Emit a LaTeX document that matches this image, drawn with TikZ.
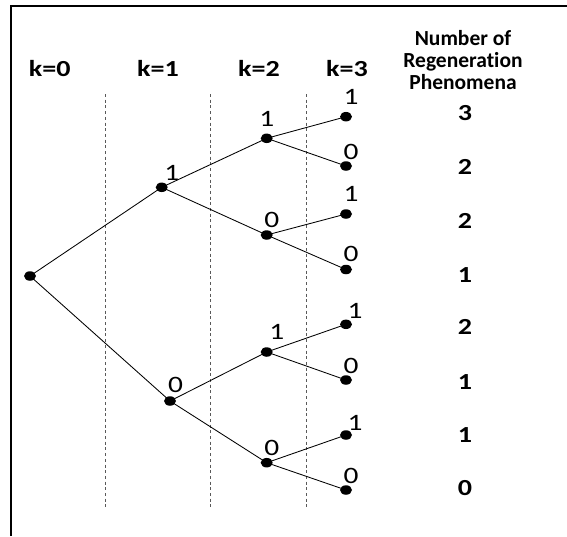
\documentclass[tikz,border=0pt]{standalone}
\usepackage{fontspec}
\usetikzlibrary{shapes.geometric}
\newfontfamily\digfont[FakeStretch=1.22,Ligatures=NoCommon]{Carlito}
\newfontfamily\wordfont[FakeStretch=1.0,Ligatures=NoCommon]{Carlito}
\newfontfamily\labfont[FakeStretch=1.25]{Carlito}
\begin{document}
\begin{tikzpicture}[x=1pt,y=-1pt,
  dot/.style={ellipse,fill=black,inner sep=0pt,minimum width=12pt,minimum height=9.5pt},
  lab/.style={inner sep=0pt,font=\labfont\fontsize{23.5}{28}\selectfont},
  hdr/.style={inner sep=0pt,anchor=base,font=\digfont\bfseries\fontsize{23}{27}\selectfont},
  word/.style={inner sep=0pt,anchor=base,font=\wordfont\bfseries\fontsize{21.5}{26}\selectfont},
  num/.style={inner sep=0pt,font=\digfont\bfseries\fontsize{23}{27}\selectfont},
  edge/.style={draw=black,line width=0.85pt},
  sep/.style={draw=black!65,line width=1pt,dash pattern=on 3pt off 2.7pt}]
\useasboundingbox (0,0) rectangle (567,536);
\fill[white] (0,0) rectangle (567,536);
% frame (left and top)
\draw[line width=2.6pt] (11,536) -- (11,6) -- (567,6);
% separators
\draw[sep] (105.3,94) -- (105.3,507);
\draw[sep] (210.7,94) -- (210.7,507);
\draw[sep] (306.7,94) -- (306.7,507);
% headers
\node[hdr] (h0) at (49.7,76) {k=0};
\node[hdr] (h1) at (158,76) {k=1};
\node[hdr] (h2) at (259,76) {k=2};
\node[hdr] (h3) at (347,76) {k=3};
\node[word] (w1) at (463,45) {Number of};
\node[word] (w2) at (463,67) {Regeneration};
\node[word] (w3) at (463,89) {Phenomena};
% nodes
\node[dot] (r) at (30,276) {};
\node[dot] (a1) at (161.7,187.3) {};
\node[dot] (a0) at (170,401) {};
\node[dot] (b11) at (266.7,138.3) {};
\node[dot] (b10) at (266.7,235) {};
\node[dot] (b01) at (266.7,352) {};
\node[dot] (b00) at (266.7,462.7) {};
\node[dot] (c111) at (346,116.7) {};
\node[dot] (c110) at (346,166) {};
\node[dot] (c101) at (346,214) {};
\node[dot] (c100) at (346,269.5) {};
\node[dot] (c011) at (346,324.3) {};
\node[dot] (c010) at (346,380) {};
\node[dot] (c001) at (346,435) {};
\node[dot] (c000) at (346,490) {};
% edges
\draw[edge] (r.center) -- (a1.center);
\draw[edge] (r.center) -- (a0.center);
\draw[edge] (a1.center) -- (b11.center);
\draw[edge] (a1.center) -- (b10.center);
\draw[edge] (a0.center) -- (b01.center);
\draw[edge] (a0.center) -- (b00.center);
\draw[edge] (b11.center) -- (c111.center);
\draw[edge] (b11.center) -- (c110.center);
\draw[edge] (b10.center) -- (c101.center);
\draw[edge] (b10.center) -- (c100.center);
\draw[edge] (b01.center) -- (c011.center);
\draw[edge] (b01.center) -- (c010.center);
\draw[edge] (b00.center) -- (c001.center);
\draw[edge] (b00.center) -- (c000.center);
% node labels
\node[lab] (la1) at (171.7,173) {1};
\node[lab] (la0) at (175.5,385) {0};
\node[lab] (lb11) at (266.7,119) {1};
\node[lab] (lb10) at (271.7,220) {0};
\node[lab] (lb01) at (276.7,331.5) {1};
\node[lab] (lb00) at (271.7,448) {0};
\node[lab] (lc111) at (351,97) {1};
\node[lab] (lc110) at (351,151.5) {0};
\node[lab] (lc101) at (351,194) {1};
\node[lab] (lc100) at (351,254) {0};
\node[lab] (lc011) at (355,311) {1};
\node[lab] (lc010) at (351,366) {0};
\node[lab] (lc001) at (355,422.5) {1};
\node[lab] (lc000) at (351,476) {0};
% counts
\node[num] (n1) at (465,113) {3};
\node[num] (n2) at (465,167) {2};
\node[num] (n3) at (465,221) {2};
\node[num] (n4) at (465,275) {1};
\node[num] (n5) at (465,327) {2};
\node[num] (n6) at (465,382) {1};
\node[num] (n7) at (465,435) {1};
\node[num] (n8) at (465,488) {0};
\end{tikzpicture}
\end{document}
